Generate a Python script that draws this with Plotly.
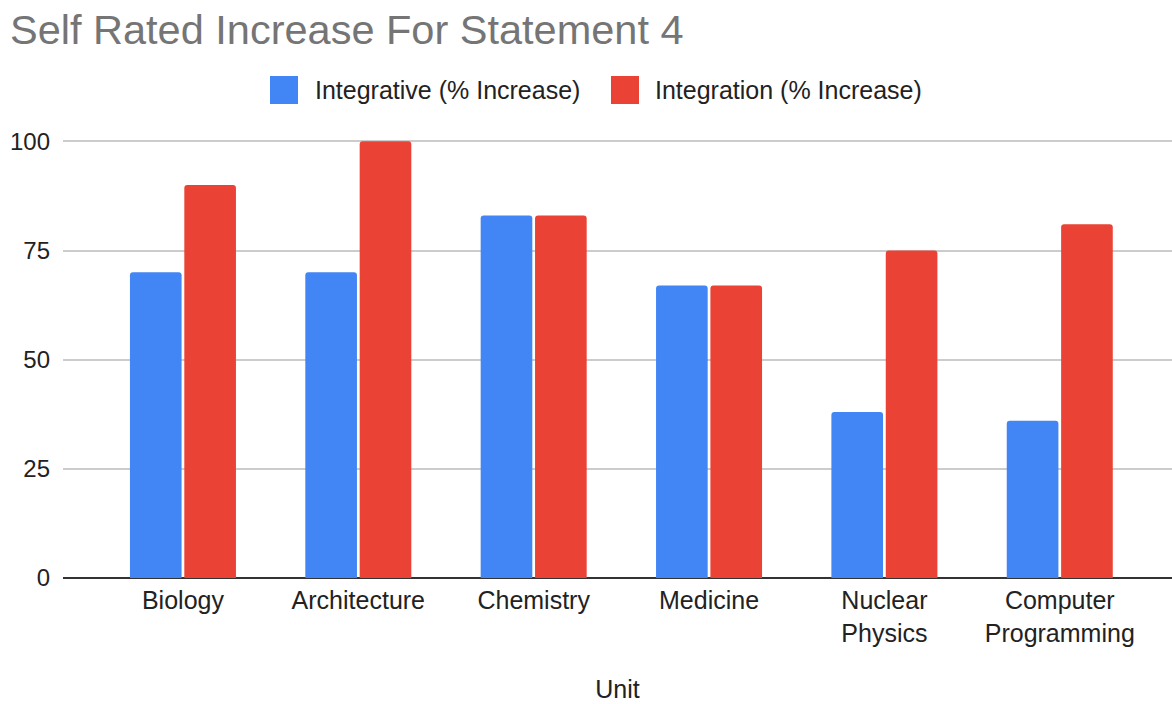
import plotly.graph_objects as go

units = ["Biology", "Architecture", "Chemistry", "Medicine",
         "Nuclear<br>Physics", "Computer<br>Programming"]
integrative = [70, 70, 83, 67, 38, 36]
integration = [90, 100, 83, 67, 75, 81]
series_names = ["Integrative (% Increase)", "Integration (% Increase)"]
series_colors = ["#4285F4", "#EA4335"]

W, H = 1172, 704
L, R, T, B = 63, 0, 137, 126
font = "Liberation Sans, Arial, sans-serif"

fig = go.Figure()
for name, vals, col in zip(series_names, [integrative, integration], series_colors):
    fig.add_trace(go.Bar(name=name, x=units, y=vals, showlegend=False,
                         marker=dict(color=col, cornerradius=3, line=dict(width=0))))


def px_x(p):
    return (p - L) / (W - L - R)


def px_y(p):
    return (H - B - p) / (H - T - B)


# legend row: swatch + label for each series
legend_items = [(270, 313), (611, 653)]
for (sx, tx), name, col in zip(legend_items, series_names, series_colors):
    fig.add_shape(type="rect", xref="paper", yref="paper",
                  x0=px_x(sx), x1=px_x(sx + 28), y0=px_y(104), y1=px_y(76),
                  fillcolor=col, line=dict(width=0), layer="above")
    fig.add_annotation(text=name, xref="paper", yref="paper", x=px_x(tx), y=px_y(90),
                       xanchor="left", yanchor="middle", showarrow=False,
                       font=dict(family=font, size=25, color="#222222"))

fig.update_layout(
    width=W, height=H,
    margin=dict(l=L, r=R, t=T, b=B),
    paper_bgcolor="white", plot_bgcolor="white",
    barmode="group", bargap=0.38, bargroupgap=0.05,
    title=dict(text="Self Rated Increase For Statement 4", x=10 / W, xanchor="left",
               y=1 - 29 / H, yanchor="middle",
               font=dict(family=font, size=41.5, color="#757575")),
    font=dict(family=font, color="#222222"),
)
fig.update_xaxes(range=[-0.684, 5.64], showgrid=False, ticks="",
                 tickfont=dict(family=font, size=25, color="#222222"),
                 ticklabelstandoff=5,
                 title=dict(text="Unit", font=dict(family=font, size=25, color="#222222"),
                            standoff=34),
                 showline=False)
fig.update_yaxes(range=[0, 101], tickvals=[0, 25, 50, 75, 100], showgrid=True,
                 gridcolor="#cccccc", gridwidth=1.5,
                 zeroline=True, zerolinecolor="#333333", zerolinewidth=2,
                 tickfont=dict(family=font, size=24, color="#222222"),
                 ticks="", ticklabelstandoff=12)

fig.write_html("out.html")
